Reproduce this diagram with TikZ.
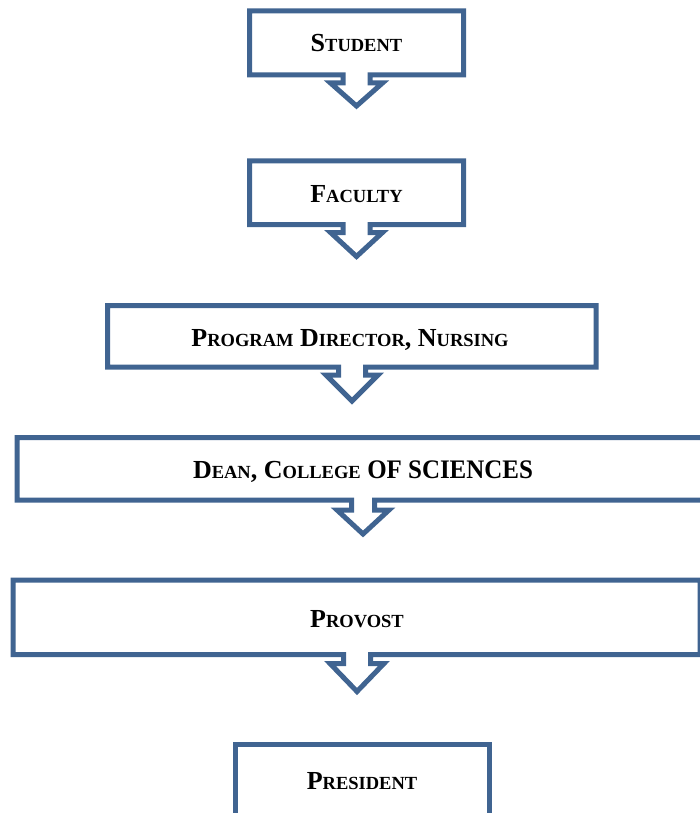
\documentclass[tikz,border=0pt]{standalone}
\usepackage{fontspec}
\setmainfont{Liberation Serif}
\definecolor{boxblue}{RGB}{64,100,145}
\newcommand\mysc[2]{#1{\fontsize{18.5}{18.5}\selectfont #2}}
\tikzset{
  outline/.style={draw=boxblue, line width=5pt, line join=miter, fill=white},
  label/.style={anchor=base, inner sep=0pt, font=\bfseries\fontsize{26}{26}\selectfont, text=black},
}
% callout box: L T R B c stemhalf flarehalf stemdepth tipdepth
\newcommand\callout[9]{%
  \draw[outline] (#1,#2) -- (#3,#2) -- (#3,#4) -- ({#5+#6},#4) -- ({#5+#6},{#4+#8})
    -- ({#5+#7},{#4+#8}) -- (#5,{#4+#9}) -- ({#5-#7},{#4+#8}) -- ({#5-#6},{#4+#8})
    -- ({#5-#6},#4) -- (#1,#4) -- cycle;}
\begin{document}
\begin{tikzpicture}[x=1pt,y=-1pt]
\useasboundingbox (0,0) rectangle (699,813);
\callout{249.5}{11}{463.5}{75}{356.5}{13.5}{26}{8}{31}
\callout{249.5}{161}{463.5}{224.5}{356.5}{13.5}{26}{8}{32}
\callout{107.5}{305.5}{596}{367}{352}{13.5}{26}{8}{34}
\callout{17}{437.5}{709}{500}{363}{11.5}{26}{10}{34}
\callout{13}{580}{700}{654.5}{357}{13.5}{27}{9}{37}
\draw[outline] (235.5,830) -- (235.5,744) -- (489,744) -- (489,830);
\node[label] (student) at (356.5,52) {\mysc{S}{TUDENT}};
\node[label] (faculty) at (356.5,202) {\mysc{F}{ACULTY}};
\node[label] (program) at (350,346) {\mysc{P}{ROGRAM} \mysc{D}{IRECTOR}, \mysc{N}{URSING}};
\node[label] (dean) at (363,478) {\mysc{D}{EAN}, \mysc{C}{OLLEGE} \scalebox{0.96}[1.03]{OF SCIENCES}};
\node[label] (provost) at (357,627) {\mysc{P}{ROVOST}};
\node[label] (president) at (362,789) {\mysc{P}{RESIDENT}};
\end{tikzpicture}
\end{document}
